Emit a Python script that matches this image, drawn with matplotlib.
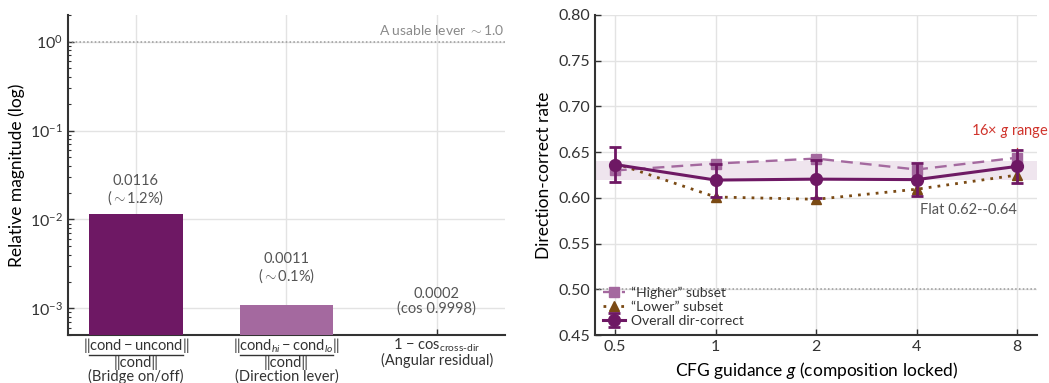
import matplotlib
matplotlib.use("Agg")
import matplotlib.pyplot as plt
import numpy as np

# ── DATA ─────────────────────────────────────────────────────────────────────
bar_values = [0.0116, 0.0011, 0.0002]
bar_texts = ["0.0116\n($\\sim$1.2%)", "0.0011\n($\\sim$0.1%)", "0.0002\n(cos 0.9998)"]
bar_numerators = [
    r"$\|\mathrm{cond} - \mathrm{uncond}\|$",
    r"$\|\mathrm{cond}_{hi} - \mathrm{cond}_{lo}\|$",
    r"1 $-$ cos$_{\mathrm{cross}\text{-}\mathrm{dir}}$",
]
bar_denominators = ["\u2016cond\u2016", "\u2016cond\u2016", None]
bar_captions = ["(Bridge on/off)", "(Direction lever)", "(Angular residual)"]
lever_level = 1.0

g_values = [0.5, 1, 2, 4, 8]
overall = [0.6365, 0.6195, 0.6205, 0.620, 0.6345]
overall_err = [0.019, 0.018, 0.021, 0.018, 0.018]
higher = [0.630, 0.6375, 0.643, 0.631, 0.644]
lower = [0.638, 0.601, 0.5985, 0.6095, 0.625]
flat_band = (0.62, 0.64)
chance = 0.5

# ── STYLE ────────────────────────────────────────────────────────────────────
COLORS = {
    "dark": "#6E1864",
    "light": "#A4699F",
    "brown": "#7A4A14",
    "band": "#EFE5EE",
    "grid": "#E3E3E3",
    "spine": "#333333",
    "note": "#8A8A8A",
    "red": "#D0342C",
}
plt.rcParams["font.family"] = ["Lato", "DejaVu Sans"]
plt.rcParams["mathtext.fontset"] = "custom"
plt.rcParams["mathtext.rm"] = "Lato"
plt.rcParams["mathtext.it"] = "Lato:italic"
plt.rcParams["mathtext.bf"] = "Lato:bold"
plt.rcParams["axes.edgecolor"] = COLORS["spine"]
plt.rcParams["xtick.color"] = COLORS["spine"]
plt.rcParams["ytick.color"] = COLORS["spine"]
plt.rcParams["text.color"] = "#333333"


def style_axes(ax):
    for side in ("top", "right"):
        ax.spines[side].set_visible(False)
    for side in ("left", "bottom"):
        ax.spines[side].set_linewidth(1.5)
    ax.tick_params(direction="in", labelsize=11.5, width=1.0, length=4)
    ax.tick_params(which="minor", direction="in", width=0.8, length=2.5)
    ax.grid(True, color=COLORS["grid"], lw=1.0, zorder=0)
    ax.set_axisbelow(True)


def below_axis(ax, xi, px, text, fs=10.5):
    """Place a text centred at category xi, px pixels below the x axis."""
    ax.annotate(text, xy=(xi, 0), xycoords=("data", "axes fraction"),
                xytext=(0, -px * 0.72), textcoords="offset points",
                ha="center", va="center", fontsize=fs, annotation_clip=False)


fig = plt.figure(figsize=(10.49, 3.83), dpi=100)
ax1 = fig.add_axes([0.065, 0.125, 0.416, 0.836])
ax2 = fig.add_axes([0.567, 0.125, 0.422, 0.836])

# ── LEFT: relative magnitudes on log scale ───────────────────────────────────
style_axes(ax1)
ax1.set_yscale("log")
ax1.set_ylim(5e-4, 2)
ax1.set_xlim(-0.45, 2.45)
x = np.arange(len(bar_values))
bar_width = 0.62
ax1.bar(x, bar_values, width=bar_width,
        color=[COLORS["dark"], COLORS["light"], COLORS["light"]], zorder=3)
label_y = [0.0138, 0.00182, 0.00083]
for xi, ly, txt in zip(x, label_y, bar_texts):
    ax1.text(xi, ly, txt, ha="center", va="bottom", fontsize=10.5,
             color="#555555", linespacing=1.05)
ax1.axhline(lever_level, color="#999999", lw=1.1, ls=(0, (1, 1.5)), zorder=2)
ax1.text(2.45, lever_level * 1.12, "A usable lever $\\sim$1.0", ha="right", va="bottom",
         fontsize=10, color=COLORS["note"])
ax1.set_xticks(x)
ax1.set_xticklabels([""] * len(x))
ax1.grid(False, which="minor")
ax1.set_ylabel("Relative magnitude (log)", fontsize=12.5)

# category labels drawn as stacked fractions
ax_h = ax1.get_position().height * fig.get_figheight() * fig.dpi
for xi, num, den, cap in zip(x, bar_numerators, bar_denominators, bar_captions):
    below_axis(ax1, xi, 10, num)
    if den is None:
        below_axis(ax1, xi, 25, cap)
        continue
    yline = -19.5 / ax_h
    ax1.plot([xi - bar_width / 2, xi + bar_width / 2], [yline, yline],
             transform=ax1.get_xaxis_transform(), color="#333333", lw=1.0,
             clip_on=False)
    below_axis(ax1, xi, 27.5, den)
    below_axis(ax1, xi, 41.5, cap)

# ── RIGHT: direction-correct rate vs guidance ────────────────────────────────
style_axes(ax2)
ax2.set_xscale("log", base=2)
ax2.set_xlim(0.5 * 2 ** -0.2, 8 * 2 ** 0.2)
ax2.set_ylim(0.45, 0.80)
ax2.set_xticks(g_values)
ax2.set_xticklabels(["0.5", "1", "2", "4", "8"])
ax2.xaxis.set_minor_locator(matplotlib.ticker.NullLocator())
ax2.set_yticks(np.arange(0.45, 0.801, 0.05))
ax2.yaxis.set_major_formatter(matplotlib.ticker.FormatStrFormatter("%.2f"))

ax2.axhspan(*flat_band, color=COLORS["band"], zorder=1, lw=0)
ax2.axhline(chance, color="#999999", lw=1.1, ls=(0, (1, 1.5)), zorder=2)

ax2.plot(g_values, higher, color=COLORS["light"], ls=(0, (5, 3)), lw=1.7,
         marker="s", ms=7, zorder=4, label="\u201cHigher\u201d subset")
ax2.plot(g_values, lower, color=COLORS["brown"], ls=(0, (1, 2.2)), lw=2.0,
         marker="^", ms=7, zorder=4, label="\u201cLower\u201d subset")
ax2.errorbar(g_values, overall, yerr=overall_err, color=COLORS["dark"], lw=2.2,
             marker="o", ms=8.5, elinewidth=2.0, capsize=4.5, capthick=2.0,
             zorder=5, label="Overall dir-correct")

# range callout at the top end of the sweep
ax2.plot([g_values[-1]] * 2, [overall[-1], 0.655], color=COLORS["red"], lw=0.9, zorder=4.5)
ax2.text(1.024, 0.673, "16\u00d7 $g$ range", transform=ax2.get_yaxis_transform(),
         ha="right", va="center", fontsize=10.5, color=COLORS["red"], clip_on=False)
ax2.text(8, 0.587, "Flat 0.62--0.64", ha="right", va="center", fontsize=10.5,
         color="#555555")

ax2.set_xlabel("CFG guidance $g$ (composition locked)", fontsize=12.5)
ax2.set_ylabel("Direction-correct rate", fontsize=12.5)
ax2.legend(loc="lower left", frameon=False, fontsize=10, handlelength=1.6,
           handletextpad=0.4, labelspacing=0.15, borderaxespad=0.2,
           bbox_to_anchor=(0.0, 0.0))

fig.savefig("out.png", dpi=100)
